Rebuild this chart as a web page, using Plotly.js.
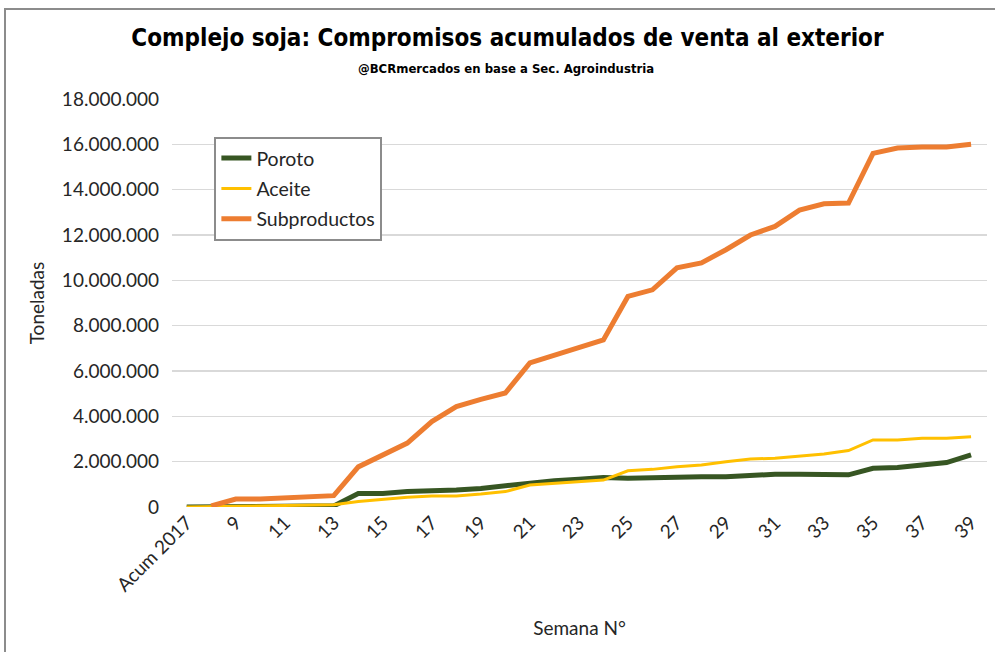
<!DOCTYPE html>
<html>
<head>
<meta charset="utf-8">
<script src="https://cdn.plot.ly/plotly-3.0.1.min.js"></script>
<style>
  html, body { margin: 0; padding: 0; background: #fff; }
  #wrap { position: relative; width: 995px; height: 652px; }
  #chart { width: 995px; height: 652px; }
  #frame { position: absolute; left: 4px; top: 8px; right: 0; bottom: 0; border-left: 2px solid #8c8c8c; border-top: 2px solid #8c8c8c; pointer-events: none; }
</style>
</head>
<body>
<div id="wrap"><div id="chart"></div><div id="frame"></div></div>
<script>
const semanas = ["Acum 2017","8","9","10","11","12","13","14","15","16","17","18","19","20","21","22","23","24","25","26","27","28","29","30","31","32","33","34","35","36","37","38","39"];
const tickLabels = ["Acum 2017","9","11","13","15","17","19","21","23","25","27","29","31","33","35","37","39"];
const poroto = [0,0,0,0,0,0,50000,600000,600000,680000,700000,750000,820000,930000,1070000,1160000,1220000,1300000,1270000,1300000,1340000,1340000,1340000,1410000,1440000,1440000,1440000,1420000,1710000,1740000,1850000,1960000,2300000];
const aceite = [0,20000,30000,40000,50000,70000,100000,240000,340000,430000,480000,490000,570000,680000,970000,1050000,1120000,1190000,1600000,1660000,1780000,1850000,2000000,2120000,2150000,2250000,2340000,2490000,2960000,2960000,3030000,3030000,3100000];
const subproductos = [null,50000,350000,350000,400000,450000,500000,1770000,2300000,2820000,3770000,4430000,4750000,5030000,6360000,6700000,7060000,7370000,9290000,9580000,10550000,10770000,11350000,12000000,12380000,13100000,13380000,13410000,15600000,15840000,15880000,15880000,16000000];

const baseFont = "Lato, 'Open Sans', sans-serif";
const txt = "#262626";
const traces = [
  {x: semanas, y: poroto, name: "Poroto", type: "scatter", mode: "lines", legendgroup: "a",
   line: {color: "#375623", width: 5}},
  {x: semanas, y: aceite, name: "Aceite", type: "scatter", mode: "lines", legendgroup: "b",
   line: {color: "#FFC000", width: 3}},
  {x: semanas, y: subproductos, name: "Subproductos", type: "scatter", mode: "lines", legendgroup: "c",
   line: {color: "#ED7D31", width: 5}}
];

const layout = {
  width: 995, height: 652,
  margin: {l: 172, r: 8, t: 99, b: 145},
  paper_bgcolor: "#fff", plot_bgcolor: "#fff",
  separators: ",.",
  font: {family: baseFont, size: 19, color: txt},
  title: {
    text: "Complejo soja: Compromisos acumulados de venta al exterior",
    font: {family: "'DejaVu Sans Condensed', 'DejaVu Sans', sans-serif", size: 24, weight: 700, color: "#000"},
    x: 0.51, xanchor: "center", y: 0.943, yanchor: "middle"
  },
  annotations: [{
    text: "@BCRmercados en base a Sec. Agroindustria",
    xref: "paper", yref: "paper", x: 0.41, y: 1.0, xanchor: "center", yanchor: "bottom",
    yshift: 21, showarrow: false,
    font: {family: "'DejaVu Sans Condensed', 'DejaVu Sans', sans-serif", size: 13, weight: 700, color: "#000"}
  }],
  xaxis: {
    type: "category",
    range: [-0.6, 32.65],
    tickmode: "array", tickvals: tickLabels, ticktext: tickLabels,
    tickangle: -45, showgrid: false, zeroline: false, showline: false, ticks: "",
    tickfont: {family: baseFont, size: 19, color: txt},
    title: {text: "Semana N°", font: {family: baseFont, size: 19, color: txt}, standoff: 27}
  },
  yaxis: {
    range: [0, 18000000], dtick: 2000000, tickformat: ",d",
    showgrid: true, gridcolor: "#d9d9d9", gridwidth: 1.5, zeroline: false, showline: false,
    ticks: "", ticklabelstandoff: 12,
    tickfont: {family: baseFont, size: 19, color: txt},
    title: {text: "Toneladas", font: {family: baseFont, size: 19, color: txt}, standoff: 12}
  },
  showlegend: true,
  legend: {
    x: 0.052, y: 0.907, xanchor: "left", yanchor: "top",
    bgcolor: "#fff", bordercolor: "#8c8c8c", borderwidth: 2,
    traceorder: "grouped", tracegroupgap: 2,
    font: {family: baseFont, size: 19.5, color: txt},
    itemwidth: 30
  }
};

Plotly.newPlot("chart", traces, layout, {displayModeBar: false, staticPlot: true});
</script>
</body>
</html>
